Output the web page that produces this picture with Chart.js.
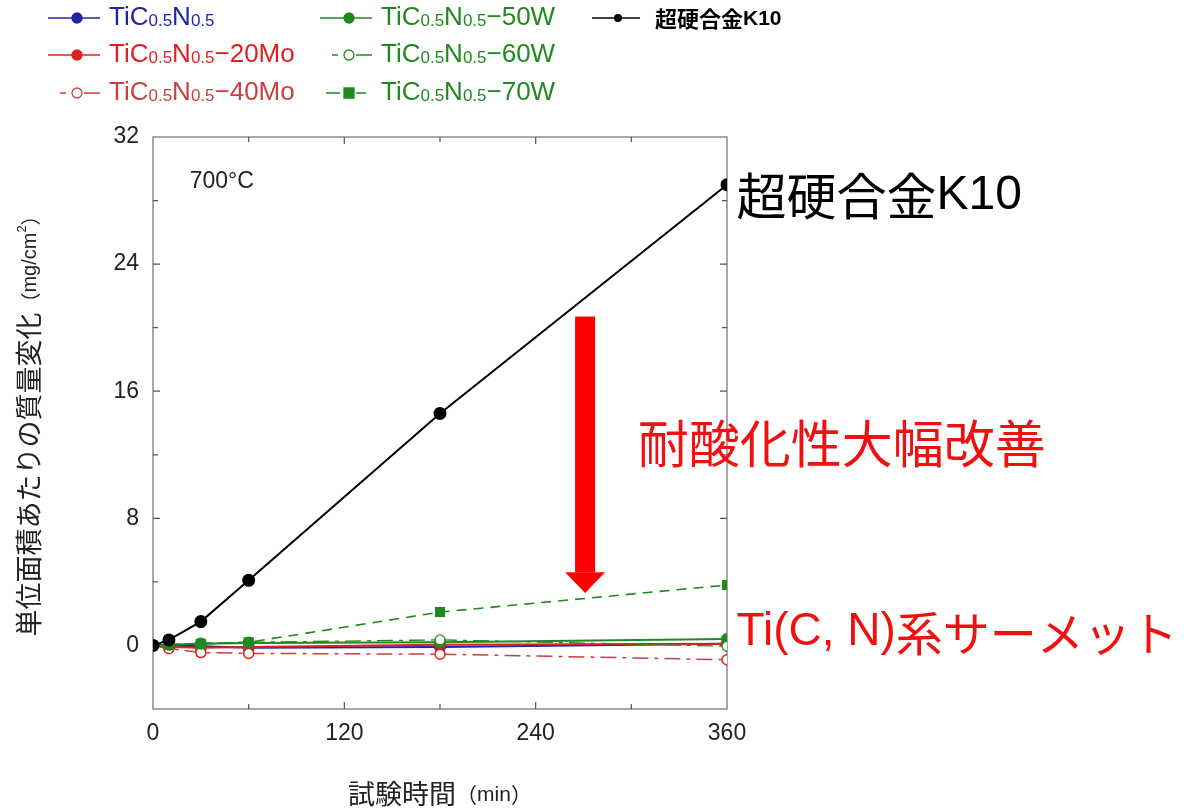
<!DOCTYPE html>
<html>
<head>
<meta charset="utf-8">
<script src="https://cdn.jsdelivr.net/npm/chart.js@4.4.1/dist/chart.umd.min.js"></script>
<style>
  html, body { margin: 0; padding: 0; background: #fff; }
  #wrap { width: 1184px; height: 808px; }
</style>
</head>
<body>
<div id="wrap"><canvas id="c" width="1184" height="808"></canvas></div>
<script>
// test times (min)
const times = [0, 10, 30, 60, 180, 360];

// mass change per unit area (mg/cm2)
const tcn    = [0, 0, -0.05, -0.15, -0.1, 0.1];
const mo20   = [0, -0.1, -0.15, -0.1, 0.05, 0.1];
const mo40   = [0, -0.2, -0.45, -0.5, -0.55, -0.9];
const w50    = [0, 0.05, 0.1, 0.15, 0.2, 0.4];
const w60    = [0, 0.05, 0.15, 0.2, 0.35, -0.05];
const w70    = [0, 0.05, 0.1, 0.2, 2.1, 3.8];
const k10    = [0, 0.35, 1.5, 4.1, 14.6, 29.0];

const xTicks = [0, 120, 240, 360];
const yTicks = [0, 8, 16, 24, 32];

const BLUE = '#2323a8', RED = '#e02020', RED2 = '#c84040', GREEN = '#1f8a1f', BLACK = '#000';
const JP = '"Noto Sans CJK JP", sans-serif';
const AR = '"Liberation Sans", Arial, sans-serif';

const pts = arr => times.map((t, i) => ({ x: t, y: arr[i] }));

function ds(label, arr, color, opts) {
  return Object.assign({
    label, data: pts(arr),
    borderColor: color, backgroundColor: color,
    pointBackgroundColor: color, pointBorderColor: color,
    borderWidth: 1.6, pointRadius: 5, pointHoverRadius: 5, pointStyle: 'circle',
    tension: 0
  }, opts || {});
}

const datasets = [
  ds('超硬合金K10', k10, BLACK, { pointRadius: 5.5, borderWidth: 2 }),
  ds('TiC0.5N0.5-70W', w70, GREEN, { borderDash: [10, 7], pointStyle: 'rect', pointRadius: 6 }),
  ds('TiC0.5N0.5-60W', w60, GREEN, { borderDash: [16, 6, 4, 6], pointBackgroundColor: '#fff', borderWidth: 1.3 }),
  ds('TiC0.5N0.5-50W', w50, GREEN, { borderWidth: 2 }),
  ds('TiC0.5N0.5-40Mo', mo40, RED2, { borderDash: [16, 6, 4, 6], pointBackgroundColor: '#fff', pointBorderColor: RED, borderWidth: 1.5 }),
  ds('TiC0.5N0.5-20Mo', mo20, RED, { borderWidth: 2 }),
  ds('TiC0.5N0.5', tcn, BLUE, { borderWidth: 2 })
];

// legend entries: [x, y, color, suffix, marker, line style, filled]
const legendItems = [
  [48, 18, BLUE, '', 'circle', 'solid', true],
  [48, 55, RED, '−20Mo', 'circle', 'solid', true],
  [48, 93, RED2, '−40Mo', 'circle', 'dashdot', false],
  [320, 18, GREEN, '−50W', 'circle', 'solid', true],
  [320, 55, GREEN, '−60W', 'circle', 'dashdot', false],
  [320, 93, GREEN, '−70W', 'rect', 'dash', true]
];

function drawMarker(ctx, x, y, shape, color, filled) {
  ctx.save();
  ctx.fillStyle = filled ? color : '#fff';
  ctx.strokeStyle = color;
  ctx.lineWidth = 1.3;
  ctx.setLineDash([]);
  ctx.beginPath();
  if (shape === 'rect') ctx.rect(x - 5, y - 5, 10, 10);
  else ctx.arc(x, y, 5, 0, Math.PI * 2);
  ctx.fill();
  ctx.stroke();
  ctx.restore();
}

// draws a run of [text, font, dy] pieces starting at x
function drawRun(ctx, parts, x, y) {
  parts.forEach(([s, f, dy]) => {
    ctx.font = f;
    ctx.fillText(s, x, y + (dy || 0));
    x += ctx.measureText(s).width;
  });
  return x;
}
function runWidth(ctx, parts) {
  let w = 0;
  parts.forEach(([s, f]) => { ctx.font = f; w += ctx.measureText(s).width; });
  return w;
}

const framePlugin = {
  id: 'frame',
  beforeDatasetsDraw(chart) {
    const { ctx, chartArea: a, scales: { x, y } } = chart;
    ctx.save();
    ctx.strokeStyle = '#8c8c8c';
    ctx.lineWidth = 1.5;
    ctx.strokeRect(a.left, a.top, a.right - a.left, a.bottom - a.top);
    ctx.lineWidth = 1.2;
    ctx.strokeStyle = '#555';
    ctx.beginPath();
    for (let v = 60; v < 360; v += 60) {
      const px = x.getPixelForValue(v);
      const len = v % 120 === 0 ? 7 : 5;
      ctx.moveTo(px, a.bottom); ctx.lineTo(px, a.bottom - len);
      ctx.moveTo(px, a.top); ctx.lineTo(px, a.top + len);
    }
    for (let v = 0; v < 32; v += 4) {
      const py = y.getPixelForValue(v);
      const len = v % 8 === 0 ? 7 : 5;
      ctx.moveTo(a.left, py); ctx.lineTo(a.left + len, py);
      ctx.moveTo(a.right, py); ctx.lineTo(a.right - len, py);
    }
    ctx.stroke();
    ctx.restore();
  },
  afterDraw(chart) {
    const { ctx, scales: { x, y } } = chart;
    ctx.save();
    ctx.textBaseline = 'middle';
    ctx.textAlign = 'left';

    // axis titles
    ctx.fillStyle = '#222';
    const xt = [['試験時間', '27px ' + JP, 0], ['（', '21px ' + JP, 1], ['min', '21px ' + AR, 1], ['）', '21px ' + JP, 1]];
    drawRun(ctx, xt, 440 - runWidth(ctx, xt) / 2, 794);

    ctx.save();
    ctx.translate(29, 421);
    ctx.rotate(-Math.PI / 2);
    const yt = [['単位面積あたりの質量変化', '27px ' + JP, 0], ['（', '20px ' + JP, 1], ['mg/cm', '20px ' + AR, 1],
                ['2', '13px ' + AR, -7], ['）', '20px ' + JP, 1]];
    drawRun(ctx, yt, -runWidth(ctx, yt) / 2, 0);
    ctx.restore();

    // temperature label
    ctx.font = '23px ' + AR;
    ctx.fillStyle = '#222';
    ctx.fillText('700°C', x.getPixelForValue(23), y.getPixelForValue(29.2));

    // annotations
    ctx.fillStyle = '#000';
    drawRun(ctx, [['超硬合金', '50px ' + JP, 0], ['K10', '48px ' + AR, 0]],
            x.getPixelForValue(366), y.getPixelForValue(28.3));
    ctx.fillStyle = '#f01010';
    drawRun(ctx, [['耐酸化性大幅改善', '51px ' + JP, 0]],
            x.getPixelForValue(304), y.getPixelForValue(12.7));
    drawRun(ctx, [['Ti(C, N)', '46px ' + AR, 0], ['系サーメット', '47px ' + JP, 0]],
            x.getPixelForValue(366), y.getPixelForValue(0.8));

    // red arrow
    const ax = x.getPixelForValue(271);
    const top = y.getPixelForValue(20.7), headTop = y.getPixelForValue(4.6), tip = y.getPixelForValue(3.3);
    ctx.fillStyle = '#ff0000';
    ctx.fillRect(ax - 10, top, 20, headTop - top);
    ctx.beginPath();
    ctx.moveTo(ax - 20, headTop); ctx.lineTo(ax + 20, headTop); ctx.lineTo(ax, tip);
    ctx.closePath(); ctx.fill();

    // legend
    legendItems.forEach(([lx, ly, color, suffix, shape, style, filled]) => {
      ctx.save();
      ctx.strokeStyle = color;
      ctx.lineWidth = 1.6;
      ctx.beginPath();
      if (style === 'solid') { ctx.moveTo(lx, ly); ctx.lineTo(lx + 52, ly); }
      else if (style === 'dashdot') { ctx.moveTo(lx + 12, ly); ctx.lineTo(lx + 18, ly); ctx.moveTo(lx + 36, ly); ctx.lineTo(lx + 52, ly); }
      else { ctx.moveTo(lx + 6, ly); ctx.lineTo(lx + 20, ly); ctx.moveTo(lx + 36, ly); ctx.lineTo(lx + 46, ly); }
      ctx.stroke();
      ctx.restore();
      drawMarker(ctx, lx + 29, ly, shape, color, filled);
      ctx.fillStyle = color;
      const big = '26px ' + AR, small = '17px ' + AR;
      const parts = [['TiC', big, 0], ['0.5', small, 3], ['N', big, 0], ['0.5', small, 3]];
      if (suffix) parts.push([suffix, big, 0]);
      drawRun(ctx, parts, lx + 61, ly);
    });
    // K10 legend
    ctx.strokeStyle = '#000';
    ctx.lineWidth = 1.4;
    ctx.beginPath(); ctx.moveTo(592, 18); ctx.lineTo(640, 18); ctx.stroke();
    ctx.fillStyle = '#000';
    ctx.beginPath(); ctx.arc(618, 18, 4, 0, Math.PI * 2); ctx.fill();
    drawRun(ctx, [['超硬合金', 'bold 22px ' + JP, 0], ['K10', 'bold 21px ' + AR, 0]], 655, 19);
    ctx.restore();
  }
};

new Chart(document.getElementById('c'), {
  type: 'line',
  data: { datasets },
  options: {
    responsive: false,
    animation: false,
    devicePixelRatio: 1,
    layout: { padding: { left: 0, top: 137, right: 457, bottom: 0 } },
    plugins: { legend: { display: false }, tooltip: { enabled: false } },
    scales: {
      x: {
        type: 'linear', min: 0, max: 360,
        afterFit: s => { s.height = 99; },
        afterBuildTicks: s => { s.ticks = xTicks.map(v => ({ value: v })); },
        grid: { display: false, drawTicks: false },
        border: { display: false },
        ticks: { color: '#222', font: { size: 23, family: AR }, padding: 11, maxRotation: 0 }
      },
      y: {
        type: 'linear', min: -4, max: 32,
        afterFit: s => { s.width = 153; },
        afterBuildTicks: s => { s.ticks = yTicks.map(v => ({ value: v })); },
        grid: { display: false, drawTicks: false },
        border: { display: false },
        ticks: { color: '#222', font: { size: 23, family: AR }, padding: 14 }
      }
    }
  },
  plugins: [framePlugin]
});
</script>
</body>
</html>
